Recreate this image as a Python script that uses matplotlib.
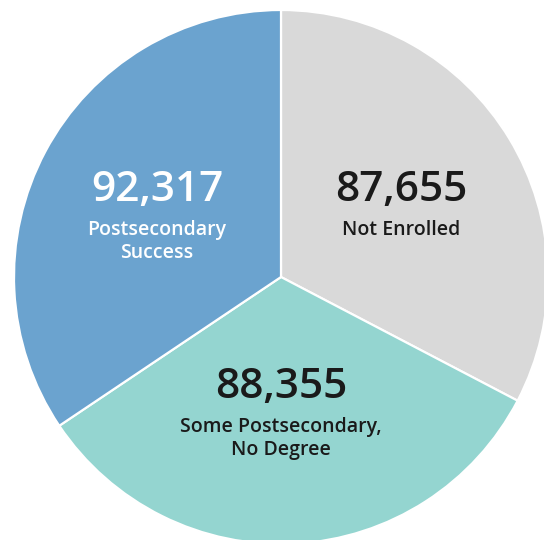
import matplotlib.pyplot as plt

# counts by outcome, drawn clockwise from the top
labels = ['Not Enrolled', 'Some Postsecondary,\nNo Degree', 'Postsecondary\nSuccess']
values = [87655, 88355, 92317]
colors = ['#d9d9d9', '#94d5d0', '#6ba3cf']
text_colors = ['#1a1a1a', '#1a1a1a', 'white']

# label anchor points in pixels (x, y from top)
label_pos = [(401, 190), (281, 387), (157, 190)]

W, H = 544, 540
fig = plt.figure(figsize=(W / 100, H / 100), dpi=100)
ax = fig.add_axes([0, 0, 1, 1])

cx, cy, r = 281, H - 277, 267
ax.pie(values, colors=colors, startangle=90, counterclock=False,
       center=(cx, cy), radius=r, frame=False,
       wedgeprops=dict(edgecolor='white', linewidth=1.6))

ax.set_xlim(0, W)
ax.set_ylim(0, H)
ax.set_aspect('equal', adjustable='box')
ax.axis('off')

plt.rcParams['font.family'] = ['Open Sans', 'DejaVu Sans']

for lab, val, (px, py), tc in zip(labels, values, label_pos, text_colors):
    ax.text(px, H - py, f'{val:,}', ha='center', va='center',
            fontsize=30.5, fontweight='semibold', color=tc)
    for i, line in enumerate(lab.split('\n')):
        ax.text(px, H - py - 40 - 23 * i, line, ha='center', va='center',
                fontsize=14, fontweight='semibold', color=tc)

fig.savefig('out.png', dpi=100)
